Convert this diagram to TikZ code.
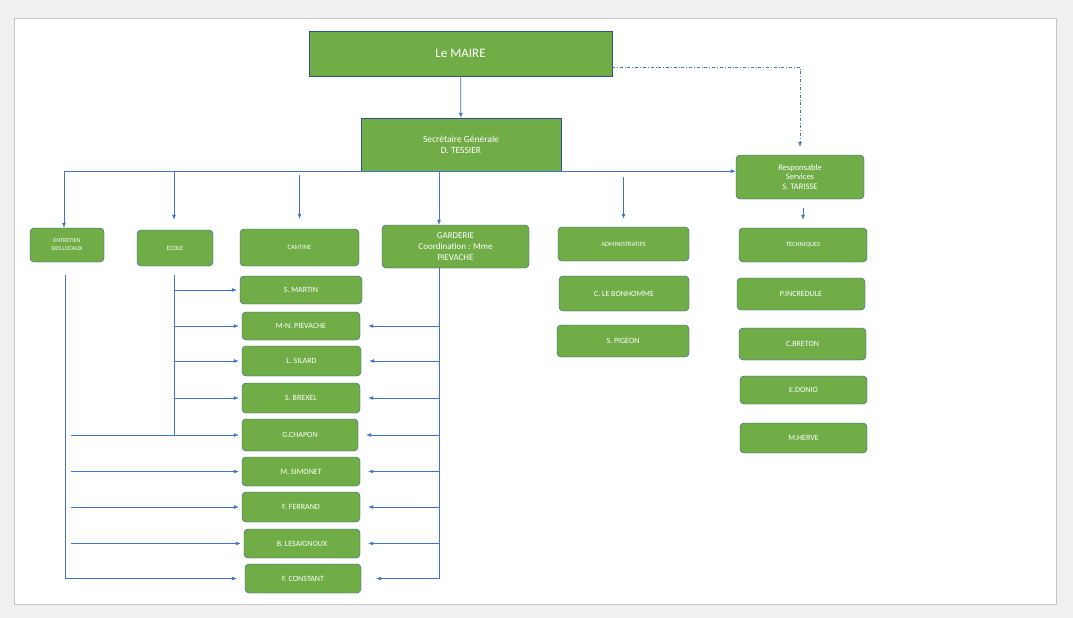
\documentclass[tikz,border=0pt]{standalone}
\usepackage{fontspec}
\setmainfont{Carlito}
\usetikzlibrary{arrows.meta,calc}
\definecolor{vert}{HTML}{70AD47}
\definecolor{bord}{HTML}{2F528F}
\definecolor{trait}{HTML}{4472C4}
\begin{document}
\begin{tikzpicture}[x=1pt,y=-1pt,
	boite/.style={draw=bord,fill=vert,text=white,rounded corners=4pt,inner sep=0pt,align=center,font=\fontsize{8}{9}\selectfont},
	carre/.style={boite,sharp corners},
	fleche/.style={trait,line width=.7pt,-{Latex[length=5pt,width=4pt]}},
	ligne/.style={trait,line width=.7pt}]
	%fond et cadre
	\fill[gray!12] (0,0) rectangle (1073,618);
	\draw[gray!45,fill=white] (14,18) rectangle (1056,604);
	%%haut de l'organigramme
	\node[carre,minimum width=303,minimum height=45,font=\fontsize{13}{15}\selectfont] (maire) at (460.5,53.5){Le MAIRE};
	\node[carre,minimum width=200,minimum height=53,font=\fontsize{9.5}{11}\selectfont] (secr) at (461,144.5){Secrétaire Générale\\D. TESSIER};
	\node[boite,minimum width=128,minimum height=44,font=\fontsize{8.5}{9.5}\selectfont] (resp) at (800,177){Responsable\\Services\\S. TARISSE};
	%% services
	\node[boite,minimum width=74,minimum height=34,font=\fontsize{6}{8}\selectfont] (entretien) at (67,245){ENTRETIEN\\DES LOCAUX};
	\node[boite,minimum width=76,minimum height=36,font=\fontsize{6.5}{8}\selectfont] (ecole) at (175,248){ECOLE};
	\node[boite,minimum width=119,minimum height=37,font=\fontsize{6.5}{8}\selectfont] (cantine) at (299.5,247.5){CANTINE};
	\node[boite,minimum width=147,minimum height=43,font=\fontsize{9}{11}\selectfont] (garderie) at (455.5,246.5){GARDERIE\\Coordination : Mme\\PIEVACHE};
	\node[boite,minimum width=131,minimum height=34,font=\fontsize{6.5}{8}\selectfont] (admin) at (623.5,244){ADMINISTRATIFS};
	\node[boite,minimum width=128,minimum height=34,font=\fontsize{6.5}{8}\selectfont] (tech) at (803,245){TECHNIQUES};
	%% agents administratifs et techniques
	\node[boite,minimum width=130,minimum height=35] (bonhomme) at (624,293.5){C. LE BONHOMME};
	\node[boite,minimum width=132,minimum height=32] (pigeon) at (623,341){S. PIGEON};
	\node[boite,minimum width=128,minimum height=32] (incredule) at (801,294){P.INCREDULE};
	\node[boite,minimum width=127,minimum height=32] (breton) at (802.5,344){C.BRETON};
	\node[boite,minimum width=127,minimum height=28] (donio) at (803.5,390){E.DONIO};
	\node[boite,minimum width=127,minimum height=30] (herve) at (803.5,438){M.HERVE};
	%% agents de l'ecole
	\node[boite,minimum width=122,minimum height=28] (martin) at (301,290){S. MARTIN};
	\node[boite,minimum width=118,minimum height=28] (pievache) at (301,326){M-N. PIEVACHE};
	\node[boite,minimum width=119,minimum height=30] (silard) at (301.5,361){L. SILARD};
	\node[boite,minimum width=118,minimum height=30] (brexel) at (301,398){S. BREXEL};
	\node[boite,minimum width=116,minimum height=32] (chapon) at (300,435){G.CHAPON};
	\node[boite,minimum width=118,minimum height=29] (simonet) at (301,471.5){M. SIMONET};
	\node[boite,minimum width=118,minimum height=30] (ferrand) at (301,507){F. FERRAND};
	\node[boite,minimum width=116,minimum height=29] (lesaignoux) at (302,543.5){B. LESAIGNOUX};
	\node[boite,minimum width=116,minimum height=29] (constant) at (303,578.5){F. CONSTANT};
	%% points libres
	\coordinate (dd) at (612,67);
	\coordinate (bus) at (64,172);
	\coordinate (ev) at (174,275);
	\coordinate (nv) at (65,275);
	\coordinate (gv) at (439,268);
	%% liaisons du haut
	\draw[fleche] (maire) -- (secr);
	\draw[fleche,dash dot,shorten >=8pt] (dd) -| (resp.north);
	\draw[ligne] (bus) -- (secr.south -| bus);
	\draw[fleche] (secr.south -| bus) -- (resp.west |- secr.south);
	\draw[fleche] (bus) -- (entretien.north -| bus);
	\draw[fleche,shorten >=10pt] (bus -| ev) -- (ecole.north -| ev);
	\draw[fleche,shorten <=3pt,shorten >=10pt] (bus -| cantine.north) -- (cantine.north);
	\draw[fleche] (bus -| gv) -- (garderie.north -| gv);
	\draw[fleche,shorten <=5pt,shorten >=8pt] (bus -| admin.north) -- (admin.north);
	\draw[fleche,shorten <=9pt,shorten >=8pt] (resp.south -| tech.north) -- (tech.north);
	%% ecole
	\draw[ligne] (ev) -- (ev |- chapon.west);
	\foreach \n in {martin,pievache,silard,brexel}
		\draw[fleche,shorten >=3pt] (ev |- \n.west) -- (\n.west);
	%% entretien
	\draw[ligne] (nv) -- (nv |- constant.west);
	\draw[fleche,shorten <=6pt,shorten >=3pt] (nv |- chapon.west) -- (chapon.west);
	\foreach \n in {simonet,ferrand,lesaignoux}
		\draw[fleche,shorten <=6pt,shorten >=3pt] (nv |- \n.west) -- (\n.west);
	\draw[fleche,shorten >=8pt] (nv |- constant.west) -- (constant.west);
	%% garderie
	\draw[ligne] (gv) -- (gv |- constant.east);
	\foreach \n in {pievache,silard,brexel,chapon,simonet,ferrand,lesaignoux}
		\draw[fleche,shorten >=8pt] (gv |- \n.east) -- (\n.east);
	\draw[fleche,shorten >=15pt] (gv |- constant.east) -- (constant.east);
\end{tikzpicture}
\end{document}
